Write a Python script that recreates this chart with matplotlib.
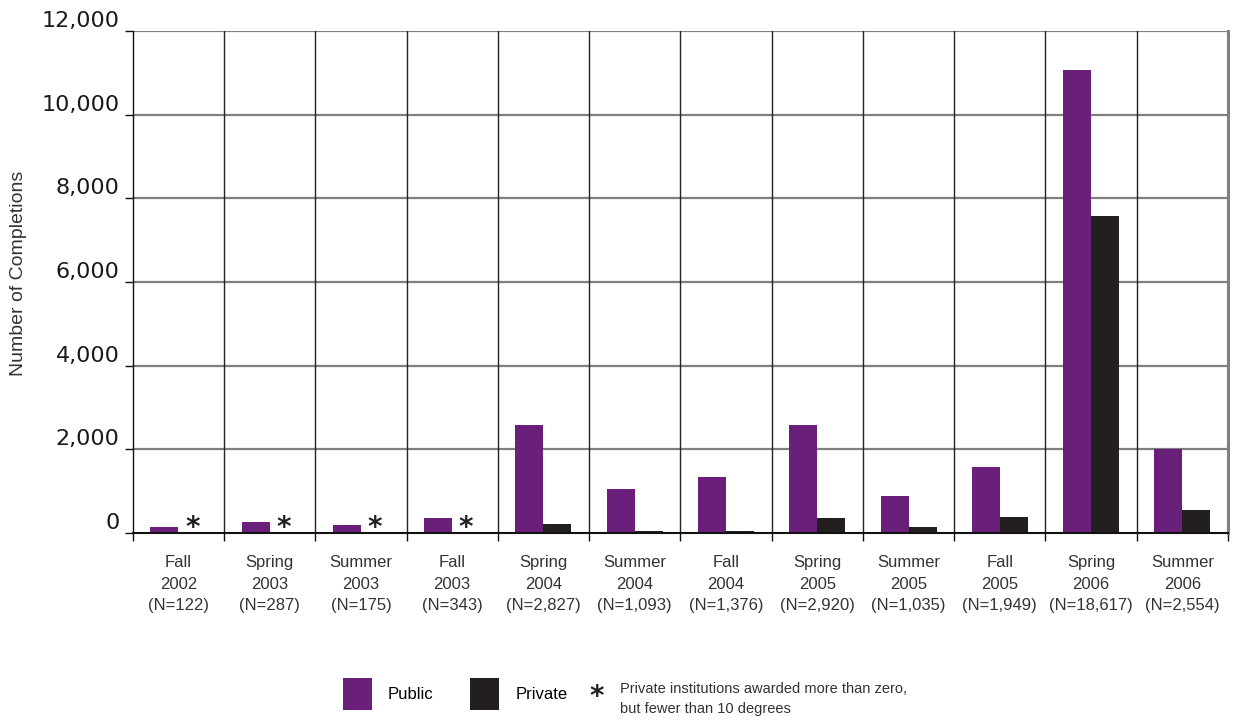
import matplotlib
matplotlib.use("Agg")
import matplotlib.pyplot as plt
from matplotlib.patches import Patch
import numpy as np

plt.rcParams['font.family'] = ['Liberation Sans', 'DejaVu Sans']

terms = ["Fall", "Spring", "Summer", "Fall", "Spring", "Summer", "Fall",
         "Spring", "Summer", "Fall", "Spring", "Summer"]
years = ["2002", "2003", "2003", "2003", "2004", "2004", "2004",
         "2005", "2005", "2005", "2006", "2006"]
totals = ["122", "287", "175", "343", "2,827", "1,093", "1,376",
          "2,920", "1,035", "1,949", "18,617", "2,554"]
public = [140, 265, 185, 360, 2590, 1040, 1340, 2570, 890, 1570, 11060, 2010]
private = [0, 0, 0, 0, 225, 55, 40, 350, 145, 390, 7570, 560]
suppressed = [True, True, True, True, False, False, False, False, False, False, False, False]

yticks = [0, 2000, 4000, 6000, 8000, 10000, 12000]

PURPLE = "#6A1F7A"
BLACK = "#231F20"

fig = plt.figure(figsize=(12.35, 7.21), dpi=100)
ax = fig.add_axes([132.7 / 1235, 1 - 533 / 721, (1228 - 132.7) / 1235, (533 - 31) / 721])

x = np.arange(len(terms))
w = 0.307
ax.bar(x - w / 2, public, width=w, color=PURPLE, zorder=3)
ax.bar(x + w / 2, private, width=w, color=BLACK, zorder=3)

for xi, s in zip(x, suppressed):
    if s:
        ax.annotate("*", xy=(xi + w / 2, 0), xytext=(0, -6.5), textcoords="offset points",
                    ha="center", va="bottom", fontsize=20, fontweight="bold",
                    color=BLACK, family="DejaVu Sans")

ax.set_xlim(-0.5, len(terms) - 0.5)
ax.set_ylim(0, 12000)

# horizontal gridlines
for yv in yticks[1:]:
    ax.axhline(yv, color="#7f7f7f", lw=1.6, zorder=1)
# vertical gridlines
for b in np.arange(0.5, len(terms) - 0.5, 1.0):
    ax.axvline(b, color="#222222", lw=1.0, zorder=2)

ax.spines["top"].set_visible(False)
ax.spines["right"].set_color("#808080")
ax.spines["right"].set_linewidth(2.2)
ax.spines["left"].set_color("#111111")
ax.spines["left"].set_linewidth(1.0)
ax.spines["bottom"].set_color("#111111")
ax.spines["bottom"].set_linewidth(1.5)
ax.spines["bottom"].set_zorder(4)

ax.set_yticks(yticks)
ax.set_yticklabels([f"{v:,}" for v in yticks], fontsize=16, family="DejaVu Sans",
                   color="#1a1a1a")
for lab in ax.get_yticklabels():
    lab.set_verticalalignment("bottom")
ax.tick_params(axis="y", direction="out", length=5.5, width=1.0, color="#111111", pad=4)

ax.set_xticks(x)
ax.set_xticklabels([f"{t}\n{y}\n(N={n})" for t, y, n in zip(terms, years, totals)],
                   fontsize=12, color="#333333", linespacing=1.55)
ax.tick_params(axis="x", which="major", length=0, pad=16)
ax.set_xticks(np.arange(-0.5, len(terms), 1.0), minor=True)
ax.tick_params(axis="x", which="minor", direction="out", length=5.5, width=1.0, color="#111111")

ax.set_ylabel("Number of Completions", fontsize=14, color="#333333")
ax.yaxis.set_label_coords(-0.0965, 0.517)

handles = [Patch(facecolor=PURPLE, label="Public"), Patch(facecolor=BLACK, label="Private")]
fig.legend(handles=handles, loc="center left", bbox_to_anchor=(338 / 1235, 1 - 694 / 721),
           ncol=2, frameon=False, fontsize=12, handlelength=1.75, handleheight=2.6,
           handletextpad=0.95, columnspacing=2.2, borderaxespad=0, borderpad=0.3)

fig.text(597 / 1235, 1 - 697 / 721, "*", ha="center", va="center", fontsize=20,
         fontweight="bold", color=BLACK, family="DejaVu Sans")
fig.text(620 / 1235, 1 - 699 / 721, "Private institutions awarded more than zero,\nbut fewer than 10 degrees",
         ha="left", va="center", fontsize=10.5, color="#333333", linespacing=1.5)

fig.savefig("out.png", dpi=100)
